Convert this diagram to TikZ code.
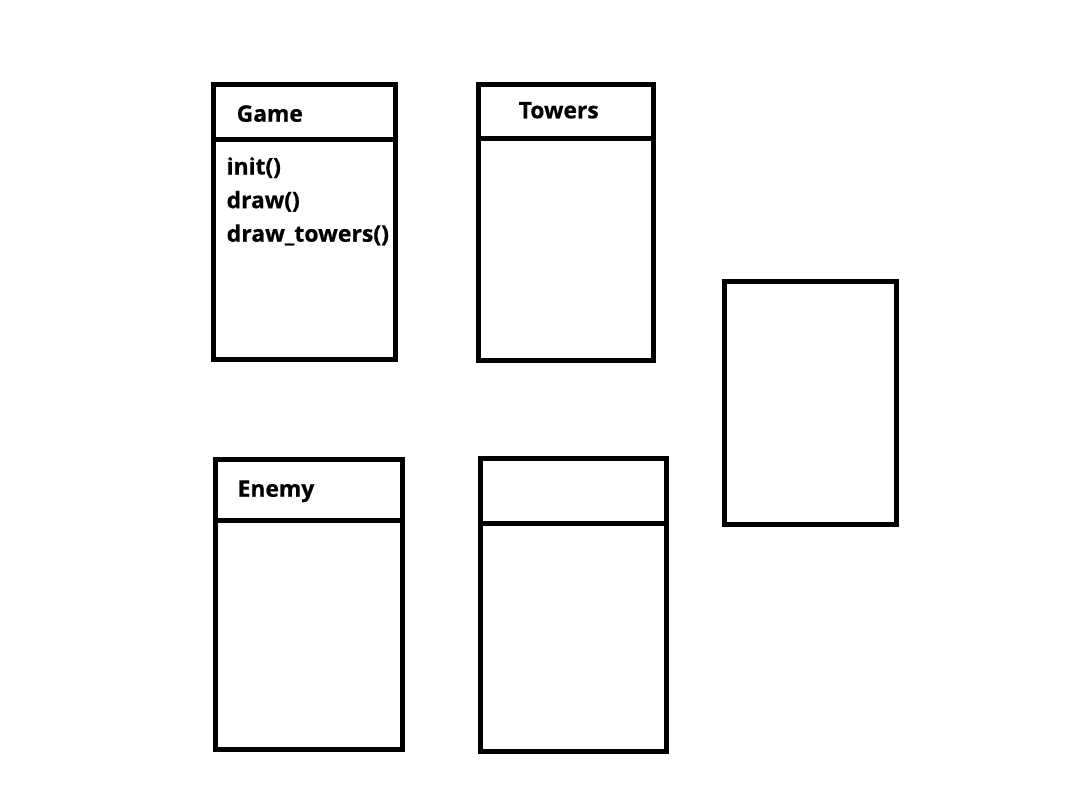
\documentclass[tikz,border=0pt]{standalone}
\usepackage{fontspec}
\setmainfont{Open Sans}[BoldFeatures={FakeBold=0.6}]
\begin{document}
\begin{tikzpicture}[x=1pt,y=-1pt,
  box/.style={draw=black,line width=5pt,fill=none,inner sep=0pt,outer sep=0pt},
  divider/.style={draw=black,line width=5pt},
  lbl/.style={anchor=base west,inner sep=0pt,font=\fontsize{22.8}{22.8}\selectfont\bfseries}]
\useasboundingbox[fill=white] (0,0) rectangle (1091,800);
% Game
\node[box,minimum width=181.5pt,minimum height=274.5pt] (game) at (304.25,221.9) {};
\coordinate (gdl) at (213.5,139.5);
\coordinate (gdr) at (395,139.5);
\draw[divider] (gdl) -- (gdr);
\node[lbl] (gametitle) at (236.5,121.7) {Game};
\node[lbl] (m1) at (226.5,174.5) {init()};
\node[lbl] (m2) at (226.5,208.2) {draw()};
\node[lbl,xscale=1.01] (m3) at (226.5,241.7) {draw\_towers()};
% Towers
\node[box,minimum width=174.7pt,minimum height=276.5pt] (towers) at (565.65,222.25) {};
\coordinate (tdl) at (478.3,138.5);
\coordinate (tdr) at (653,138.5);
\draw[divider] (tdl) -- (tdr);
\node[lbl] (towerstitle) at (518.5,118.3) {Towers};
% right box
\node[box,minimum width=172.2pt,minimum height=243pt] (rbox) at (810.4,403) {};
% Enemy
\node[box,minimum width=186.7pt,minimum height=290pt] (enemy) at (309.15,604) {};
\coordinate (edl) at (215.8,520.5);
\coordinate (edr) at (402.5,520.5);
\draw[divider] (edl) -- (edr);
\node[lbl] (enemytitle) at (237.5,496.7) {Enemy};
% fifth box
\node[box,minimum width=185.7pt,minimum height=292.5pt] (fbox) at (573.65,604.75) {};
\coordinate (fdl) at (480.8,523);
\coordinate (fdr) at (666.5,523);
\draw[divider] (fdl) -- (fdr);
\end{tikzpicture}
\end{document}
